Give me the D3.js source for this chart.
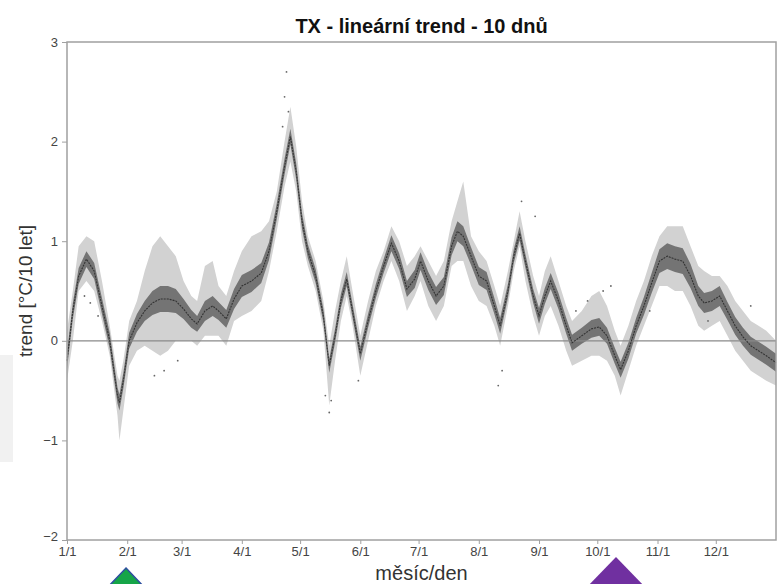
<!DOCTYPE html>
<html>
<head>
<meta charset="utf-8">
<script src="https://cdn.jsdelivr.net/npm/d3@7/dist/d3.min.js"></script>
<style>
  html, body { margin: 0; padding: 0; background: #fff; }
  svg { display: block; font-family: "Liberation Sans", Arial, sans-serif; }
</style>
</head>
<body>
<svg id="chart" width="777" height="584"></svg>
<script>
// Day of year (0 = 1 Jan) for each sample of the smoothed trend
const days = [0,3,6,10,14,18,22,26,27,29,32,36,40,44,48,52,56,60,64,67,71,75,78,82,86,90,95,100,104,108,112,115,118,121,124,128,132,135,138,141,144,147,151,155,159,163,167,171,175,179,182,186,190,194,198,201,204,208,212,216,220,223,227,230,233,236,240,243,246,249,253,257,260,265,270,274,278,282,285,289,293,297,301,305,309,313,317,321,325,328,332,336,340,344,348,352,356,360,365];
// Linear trend of TX over a 10-day window [°C / 10 years]
const trend = [-0.2,0.3,0.65,0.82,0.7,0.35,0.0,-0.55,-0.62,-0.4,0.0,0.18,0.3,0.38,0.42,0.42,0.4,0.32,0.22,0.17,0.3,0.35,0.3,0.22,0.42,0.55,0.6,0.68,0.9,1.3,1.75,2.05,1.7,1.2,0.9,0.65,0.25,-0.25,0.05,0.4,0.62,0.3,-0.13,0.2,0.5,0.75,0.98,0.8,0.52,0.62,0.8,0.6,0.45,0.55,0.95,1.1,1.05,0.85,0.65,0.6,0.35,0.15,0.5,0.85,1.08,0.8,0.45,0.25,0.45,0.6,0.4,0.15,-0.02,0.05,0.12,0.14,0.05,-0.15,-0.29,-0.1,0.15,0.35,0.58,0.8,0.85,0.82,0.8,0.65,0.45,0.38,0.4,0.45,0.3,0.15,0.04,-0.05,-0.1,-0.15,-0.22];
// Inner (dark) uncertainty band: half-width around the trend
const innerHalf = [0.08,0.08,0.08,0.08,0.08,0.08,0.08,0.08,0.08,0.08,0.08,0.09,0.1,0.12,0.13,0.13,0.12,0.1,0.09,0.08,0.1,0.1,0.09,0.09,0.1,0.11,0.11,0.1,0.09,0.08,0.08,0.08,0.08,0.08,0.07,0.07,0.07,0.07,0.07,0.07,0.07,0.07,0.07,0.07,0.07,0.07,0.08,0.08,0.08,0.09,0.09,0.09,0.09,0.09,0.09,0.1,0.1,0.09,0.09,0.09,0.08,0.08,0.07,0.07,0.07,0.07,0.07,0.08,0.08,0.08,0.08,0.08,0.08,0.08,0.09,0.09,0.08,0.08,0.08,0.08,0.08,0.09,0.1,0.12,0.13,0.13,0.13,0.12,0.1,0.1,0.1,0.1,0.09,0.09,0.09,0.09,0.09,0.09,0.09];
// Outer (light) band: lower and upper bounds
const outerLo = [-0.4,0.0,0.5,0.6,0.5,0.2,-0.15,-0.75,-1.0,-0.7,-0.25,-0.1,-0.05,-0.1,-0.15,-0.1,0.0,0.0,0.0,-0.05,0.05,0.05,0.05,-0.05,0.2,0.25,0.3,0.4,0.7,1.1,1.55,1.8,1.5,1.0,0.75,0.5,0.1,-0.65,-0.2,0.2,0.45,0.15,-0.35,0.0,0.35,0.6,0.8,0.6,0.3,0.45,0.6,0.35,0.2,0.35,0.75,0.8,0.8,0.55,0.4,0.35,0.15,-0.05,0.35,0.7,0.95,0.6,0.25,0.05,0.25,0.35,0.15,-0.1,-0.25,-0.2,-0.15,-0.15,-0.2,-0.35,-0.55,-0.3,-0.05,0.15,0.35,0.55,0.55,0.5,0.5,0.35,0.15,0.1,0.15,0.2,0.05,-0.1,-0.2,-0.3,-0.35,-0.4,-0.45];
const outerHi = [0.1,0.5,0.95,1.05,1.0,0.6,0.15,-0.35,-0.4,-0.2,0.2,0.4,0.7,0.95,1.05,0.95,0.85,0.6,0.45,0.4,0.75,0.8,0.55,0.45,0.7,0.9,1.05,1.1,1.2,1.5,2.0,2.35,1.95,1.4,1.05,0.8,0.4,-0.05,0.3,0.6,0.85,0.5,0.05,0.4,0.7,0.9,1.15,1.0,0.75,0.85,0.95,0.8,0.65,0.8,1.2,1.4,1.6,1.05,0.9,0.8,0.55,0.35,0.7,1.0,1.3,1.0,0.65,0.45,0.7,0.85,0.6,0.35,0.2,0.3,0.45,0.5,0.35,0.1,-0.05,0.15,0.4,0.6,0.85,1.05,1.15,1.15,1.15,0.95,0.75,0.7,0.65,0.65,0.55,0.4,0.3,0.2,0.15,0.1,0.0];
// Isolated estimates scattered outside the bands [day, value]
const strayDays = [113,112,114,111,9,12,16,45,50,57,133,135,136,150,222,224,241,234,262,268,276,280,300,330,352];
const strayVals = [2.7,2.45,2.3,2.15,0.45,0.38,0.25,-0.35,-0.3,-0.2,-0.55,-0.72,-0.6,-0.4,-0.45,-0.3,1.25,1.4,0.3,0.4,0.5,0.55,0.3,0.2,0.35];

const monthStarts = [0,31,59,90,120,151,181,212,243,273,304,334];
const monthLabels = ["1/1","2/1","3/1","4/1","5/1","6/1","7/1","8/1","9/1","10/1","11/1","12/1"];
const yTicks = [-2,-1,0,1,2,3];

const svg = d3.select("#chart");
const margin = { left: 67, right: 1, top: 42, bottom: 44 };
const W = 777, H = 584;
const x = d3.scaleLinear().domain([0, 365]).range([margin.left, W - margin.right]);
const y = d3.scaleLinear().domain([-2, 3]).range([H - margin.bottom, margin.top]);

const rows = days.map((d, i) => ({
  d, c: trend[i], h: innerHalf[i], lo: outerLo[i], hi: outerHi[i]
}));

// side panel
svg.append("rect").attr("x", 0).attr("y", 355).attr("width", 13).attr("height", 107).attr("fill", "#f1f1f1");

// outer band
svg.append("path").datum(rows)
  .attr("fill", "#d2d2d2")
  .attr("d", d3.area().x(r => x(r.d)).y0(r => y(r.lo)).y1(r => y(r.hi)));

// inner band
svg.append("path").datum(rows)
  .attr("fill", "#747474")
  .attr("d", d3.area().x(r => x(r.d)).y0(r => y(r.c - r.h)).y1(r => y(r.c + r.h)));

// zero reference line
svg.append("line")
  .attr("x1", x(0)).attr("x2", x(365)).attr("y1", y(0)).attr("y2", y(0))
  .attr("stroke", "#8a8a8a").attr("stroke-width", 1.2);

// trend line
svg.append("path").datum(rows)
  .attr("fill", "none").attr("stroke", "#333").attr("stroke-width", 1.1)
  .attr("stroke-dasharray", "2,1")
  .attr("d", d3.line().x(r => x(r.d)).y(r => y(r.c)));

// stray points
svg.append("g").selectAll("circle")
  .data(strayDays.map((d, i) => ({ d, v: strayVals[i] })))
  .join("circle")
  .attr("cx", p => x(p.d)).attr("cy", p => y(p.v)).attr("r", 0.9)
  .attr("fill", "#666");

// frame
svg.append("rect")
  .attr("x", x(0)).attr("y", y(3))
  .attr("width", x(365) - x(0)).attr("height", y(-2) - y(3))
  .attr("fill", "none").attr("stroke", "#a0a0a0").attr("stroke-width", 1.5);

// axes
const yAxis = svg.append("g").attr("transform", `translate(${x(0)},0)`)
  .call(d3.axisLeft(y).tickValues(yTicks).tickSize(5).tickPadding(4).tickFormat(d3.format("d")));
yAxis.select(".domain").remove();
yAxis.selectAll("line").attr("stroke", "#a0a0a0");
yAxis.selectAll("text").attr("font-size", 13).attr("fill", "#444")
  .attr("font-family", "Liberation Sans, Arial, sans-serif");
// lowest label sits a little above its tick, clear of the month labels
yAxis.selectAll(".tick").filter(d => d === -2).select("text").attr("dy", "0.0em");

const xAxis = svg.append("g").attr("transform", `translate(0,${y(-2)})`)
  .call(d3.axisBottom(x).tickValues(monthStarts).tickSize(4).tickPadding(3)
    .tickFormat((d, i) => monthLabels[i]));
xAxis.select(".domain").remove();
xAxis.selectAll("line").attr("stroke", "#a0a0a0");
xAxis.selectAll("text").attr("font-size", 13).attr("fill", "#444")
  .attr("font-family", "Liberation Sans, Arial, sans-serif");

// titles
svg.append("text").attr("x", (x(0) + x(365)) / 2).attr("y", 33)
  .attr("text-anchor", "middle").attr("font-size", 20).attr("font-weight", "bold")
  .attr("fill", "#111").text("TX - lineární trend - 10 dnů");
svg.append("text").attr("x", (x(0) + x(365)) / 2).attr("y", 580)
  .attr("text-anchor", "middle").attr("font-size", 20).attr("fill", "#333")
  .text("měsíc/den");
svg.append("text")
  .attr("transform", `translate(32,291) rotate(-90)`)
  .attr("text-anchor", "middle").attr("font-size", 19).attr("fill", "#333")
  .text("trend [°C/10 let]");

// markers below the axis
svg.append("path").attr("d", "M126,568 L145,588 L107,588 Z")
  .attr("fill", "#16a548").attr("stroke", "#2e4fa0").attr("stroke-width", 1.5);
svg.append("path").attr("d", "M616,557 L646,588 L586,588 Z")
  .attr("fill", "#7030a0");
</script>
</body>
</html>
